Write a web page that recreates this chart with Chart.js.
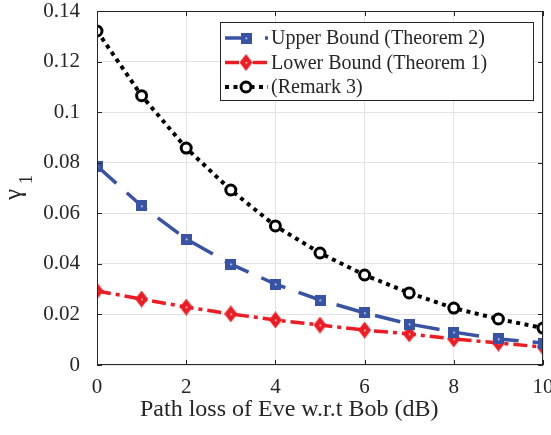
<!DOCTYPE html>
<html>
<head>
<meta charset="utf-8">
<script src="https://cdn.jsdelivr.net/npm/chart.js@4.4.1/dist/chart.umd.min.js"></script>
<style>
  html, body { margin: 0; padding: 0; background: #fff; }
  #wrap { width: 551px; height: 435px; }
</style>
</head>
<body>
<div id="wrap"><canvas id="chart" width="551" height="435"></canvas></div>
<script>
// values
const pathLoss = [0, 1, 2, 3, 4, 5, 6, 7, 8, 9, 10];
const upperBound = [0.0787, 0.0629, 0.0498, 0.0399, 0.0320, 0.0257, 0.0206, 0.0162, 0.0130, 0.0103, 0.0087];
const lowerBound = [0.0293, 0.0261, 0.0229, 0.0202, 0.0178, 0.0158, 0.0138, 0.0123, 0.0103, 0.0087, 0.0071];
const remark3 = [0.1321, 0.1065, 0.0858, 0.0692, 0.0550, 0.0443, 0.0356, 0.0285, 0.0225, 0.0182, 0.0146];
const xTicks = [0, 2, 4, 6, 8, 10];
const yTicks = [0, 0.02, 0.04, 0.06, 0.08, 0.1, 0.12, 0.14];
const seriesNames = ['Upper Bound (Theorem 2)', 'Lower Bound (Theorem 1)', '(Remark 3)'];

const FONT = '"Liberation Serif", "DejaVu Serif", serif';
const AXIS = '#262626';
const BLUE = '#3953a4';
const RED = '#ed1c24';

const toXY = arr => arr.map((v, i) => ({ x: pathLoss[i], y: v }));

// marker images (square and tall diamond with the little white centre)
function squareMarker(col) {
  const cv = document.createElement('canvas');
  cv.width = 11; cv.height = 11;
  const g = cv.getContext('2d');
  g.fillStyle = col; g.fillRect(0, 0, 11, 11);
  g.fillStyle = '#fff'; g.fillRect(5, 5, 1.5, 1.5);
  return cv;
}
function diamondMarker(col) {
  const cv = document.createElement('canvas');
  cv.width = 13; cv.height = 17;
  const g = cv.getContext('2d');
  g.fillStyle = col;
  g.beginPath();
  g.moveTo(6.5, 0); g.lineTo(13, 8.5); g.lineTo(6.5, 17); g.lineTo(0, 8.5);
  g.closePath(); g.fill();
  g.fillStyle = '#fff'; g.fillRect(6, 8, 1.5, 1.5);
  return cv;
}

// box, inward ticks, axis titles and legend in MATLAB style
const decor = {
  id: 'decor',
  afterDraw(c) {
    const ctx = c.ctx, a = c.chartArea;
    const xs = c.scales.x, ys = c.scales.y;
    ctx.save();
    ctx.strokeStyle = AXIS;
    ctx.lineWidth = 1;
    ctx.strokeRect(a.left + 0.5, a.top + 0.5, a.right - a.left - 1, a.bottom - a.top - 1);
    ctx.beginPath();
    xTicks.forEach(t => {
      const px = Math.round(xs.getPixelForValue(t)) + 0.5;
      ctx.moveTo(px, a.bottom); ctx.lineTo(px, a.bottom - 5);
      ctx.moveTo(px, a.top); ctx.lineTo(px, a.top + 5);
    });
    yTicks.forEach(t => {
      const py = Math.round(ys.getPixelForValue(t)) + 0.5;
      ctx.moveTo(a.left, py); ctx.lineTo(a.left + 5, py);
      ctx.moveTo(a.right, py); ctx.lineTo(a.right - 5, py);
    });
    ctx.stroke();

    // tick labels
    ctx.fillStyle = AXIS;
    ctx.font = '21px ' + FONT;
    ctx.textAlign = 'center';
    ctx.textBaseline = 'middle';
    xTicks.forEach(t => ctx.fillText(String(t), xs.getPixelForValue(t), 387));
    ctx.textAlign = 'right';
    yTicks.forEach(t => ctx.fillText(String(t), a.left - 17, ys.getPixelForValue(t)));

    // x title
    ctx.textAlign = 'left';
    ctx.textBaseline = 'alphabetic';
    ctx.font = '24px ' + FONT;
    ctx.fillText('Path loss of Eve w.r.t Bob (dB)', 140, 416);

    // y title: gamma_1
    ctx.save();
    ctx.translate(21, 200);
    ctx.rotate(-Math.PI / 2);
    ctx.textAlign = 'left';
    ctx.font = '25px ' + FONT;
    ctx.fillText('γ', 0, 0);
    ctx.font = '18px ' + FONT;
    ctx.fillText('1', 16, 11);
    ctx.restore();

    // legend
    const lx = 220, ly = 22, lw = 313, lh = 78;
    ctx.fillStyle = '#fff';
    ctx.fillRect(lx, ly, lw, lh);
    ctx.strokeStyle = AXIS;
    ctx.strokeRect(lx + 0.5, ly + 0.5, lw, lh);
    c.data.datasets.forEach((ds, i) => {
      const y = 38 + i * 24.5;
      ctx.save();
      ctx.strokeStyle = ds.borderColor;
      ctx.lineWidth = ds.borderWidth;
      ctx.setLineDash(ds.borderDash || []);
      ctx.beginPath();
      ctx.moveTo(225, y); ctx.lineTo(268, y);
      ctx.stroke();
      ctx.restore();
      ctx.fillStyle = ds.pointBackgroundColor;
      ctx.strokeStyle = ds.pointBorderColor;
      ctx.lineWidth = ds.pointBorderWidth;
      Chart.helpers.drawPoint(ctx, {
        pointStyle: ds.pointStyle, radius: ds.pointRadius, borderWidth: ds.pointBorderWidth, rotation: 0
      }, 246, y);
      ctx.fillStyle = AXIS;
      ctx.font = '20px ' + FONT;
      ctx.textAlign = 'left';
      ctx.textBaseline = 'middle';
      ctx.fillText(ds.label, 271, y + 1);
    });
    ctx.restore();
  }
};

new Chart(document.getElementById('chart'), {
  type: 'line',
  data: {
    datasets: [
      {
        label: seriesNames[0],
        data: toXY(upperBound),
        borderColor: BLUE,
        borderWidth: 3.5,
        borderDash: [26, 14],
        pointStyle: squareMarker(BLUE),
        pointRadius: 6,
        pointBackgroundColor: BLUE,
        pointBorderColor: BLUE,
        pointBorderWidth: 0
      },
      {
        label: seriesNames[1],
        data: toXY(lowerBound),
        borderColor: RED,
        borderWidth: 3.5,
        borderDash: [14, 5, 4, 5],
        pointStyle: diamondMarker(RED),
        pointRadius: 8,
        pointBackgroundColor: RED,
        pointBorderColor: RED,
        pointBorderWidth: 0
      },
      {
        label: seriesNames[2],
        data: toXY(remark3),
        borderColor: '#000',
        borderWidth: 4,
        borderDash: [4, 4.5],
        pointStyle: 'circle',
        pointRadius: 5,
        pointBackgroundColor: '#fff',
        pointBorderColor: '#000',
        pointBorderWidth: 3
      }
    ]
  },
  options: {
    responsive: false,
    animation: false,
    layout: { padding: { top: 11, right: 8, left: 0, bottom: 0 } },
    plugins: { legend: { display: false }, tooltip: { enabled: false } },
    scales: {
      x: {
        type: 'linear',
        min: 0, max: 10,
        afterBuildTicks: s => { s.ticks = xTicks.map(v => ({ value: v })); },
        afterFit: s => { s.height = 70; },
        ticks: { display: false },
        border: { display: false },
        grid: { color: '#e3e3e3', lineWidth: 1, drawTicks: false }
      },
      y: {
        min: 0, max: 0.14,
        afterBuildTicks: s => { s.ticks = yTicks.map(v => ({ value: v })); },
        afterFit: s => { s.width = 97; },
        ticks: { display: false },
        border: { display: false },
        grid: { color: '#e3e3e3', lineWidth: 1, drawTicks: false }
      }
    }
  },
  plugins: [decor]
});
</script>
</body>
</html>
